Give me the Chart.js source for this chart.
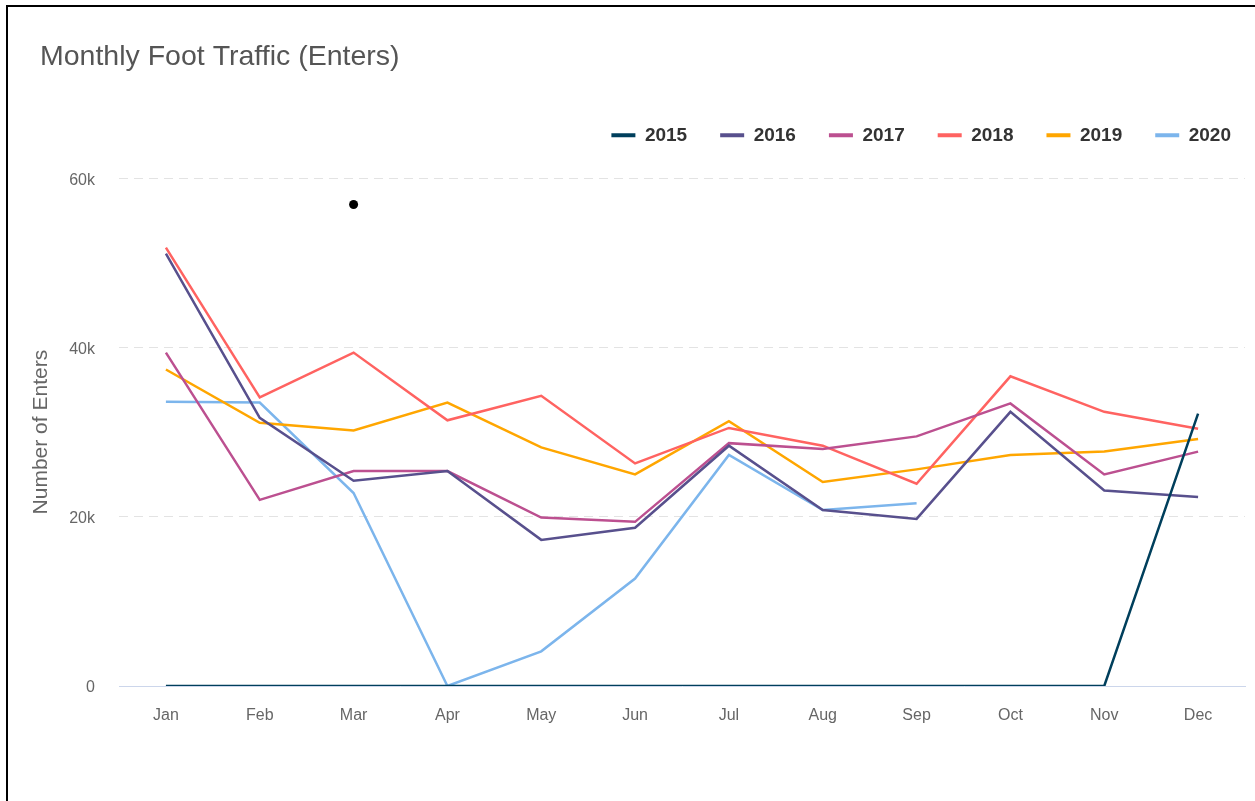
<!DOCTYPE html>
<html>
<head>
<meta charset="utf-8">
<script src="https://cdn.jsdelivr.net/npm/chart.js@4.4.1/dist/chart.umd.min.js"></script>
<style>
  html, body { margin: 0; padding: 0; background: #fff; }
  #wrap { position: relative; width: 1255px; height: 801px; overflow: hidden; }
  #frame { position: absolute; left: 6px; top: 5px; width: 1300px; height: 900px;
           border-left: 2px solid #000; border-top: 2px solid #000; box-sizing: border-box; }
  #c { position: absolute; left: 0; top: 0; }
</style>
</head>
<body>
<div id="wrap">
  <div id="frame"></div>
  <canvas id="c" width="1255" height="801"></canvas>
</div>
<script>
const months = ['Jan','Feb','Mar','Apr','May','Jun','Jul','Aug','Sep','Oct','Nov','Dec'];
const seriesNames = ['2015','2016','2017','2018','2019','2020'];
const y2015 = [0,0,0,0,0,0,0,0,0,0,0,32200];
const y2016 = [51100,31700,24250,25400,17270,18700,28400,20800,19750,32400,23100,22350];
const y2017 = [39400,22000,25400,25400,19900,19400,28700,28000,29500,33400,25000,27700];
const y2018 = [51800,34100,39400,31400,34300,26300,30500,28400,23900,36600,32400,30400];
const y2019 = [37400,31100,30200,33500,28200,25000,31300,24100,25600,27300,27700,29200];
const y2020 = [33600,33500,22800,0,4100,12700,27300,20800,21600,null,null,null];
const cursorDot = [null,null,56900,null,null,null,null,null,null,null,null,null];
const yTickValues = [0,20000,40000,60000];
const colors = ['#003f5c','#58508d','#bc5090','#ff6361','#ffa600','#7cb5ec'];

Chart.defaults.font.family = '"Liberation Sans", Arial, sans-serif';

const seriesData = [y2015,y2016,y2017,y2018,y2019,y2020];
const datasets = seriesData.map((d,i) => ({
  label: seriesNames[i],
  data: d,
  borderColor: colors[i],
  backgroundColor: colors[i],
  borderWidth: 2.5,
  pointRadius: 0,
  tension: 0,
  spanGaps: false
}));
datasets.push({
  label: 'cursor',
  data: cursorDot,
  showLine: false,
  pointRadius: 4.5,
  pointBackgroundColor: '#000',
  pointBorderWidth: 0,
  borderColor: '#000',
  backgroundColor: '#000'
});

const legendTweak = {
  id: 'legendTweak',
  afterInit(chart) {
    const lg = chart.legend;
    if (!lg || lg._tweaked) return;
    const origFit = lg.fit;
    lg.fit = function() {
      origFit.call(this);
      this.height += 23.5;
    };
    const origDraw = lg.draw;
    lg.draw = function() {
      const ctx = this.ctx;
      ctx.save();
      ctx.translate(19, 0);
      origDraw.call(this);
      ctx.restore();
    };
    lg._tweaked = true;
  }
};

new Chart(document.getElementById('c'), {
  type: 'line',
  data: { labels: months, datasets },
  plugins: [legendTweak],
  options: {
    responsive: false,
    animation: false,
    devicePixelRatio: 1,
    layout: { padding: { left: 40, right: 10, top: 0, bottom: 0 } },
    plugins: {
      tooltip: { enabled: false },
      title: {
        display: true,
        text: 'Monthly Foot Traffic (Enters)',
        align: 'start',
        color: '#555',
        font: { size: 28.5, weight: 'normal', lineHeight: 1.2 },
        padding: { top: 40.2, bottom: 18.4 }
      },
      legend: {
        display: true,
        position: 'top',
        align: 'end',
        labels: {
          boxWidth: 24,
          boxHeight: 4,
          padding: 33,
          color: '#333',
          font: { size: 19, weight: 'bold' },
          generateLabels(chart) {
            const items = Chart.defaults.plugins.legend.labels.generateLabels(chart);
            items.forEach(it => { it.fillStyle = it.strokeStyle; it.lineWidth = 0; });
            return items.filter(it => it.datasetIndex < seriesNames.length);
          }
        }
      }
    },
    scales: {
      x: {
        type: 'category',
        offset: true,
        grid: { display: false, drawTicks: false },
        border: { display: true, color: '#ccd6eb', width: 1 },
        ticks: { color: '#666', font: { size: 16 }, padding: 20, maxRotation: 0, autoSkip: false },
        afterFit(scale) { scale.height = 115; }
      },
      y: {
        min: 0,
        max: 60000,
        afterBuildTicks(scale) { scale.ticks = yTickValues.map(v => ({ value: v })); },
        grid: {
          drawTicks: false,
          color: ctx => (ctx.tick && ctx.tick.value === 0) ? 'rgba(0,0,0,0)' : '#e3e3e3',
          lineWidth: 1
        },
        border: { display: false, dash: [9, 6] },
        ticks: {
          color: '#666',
          font: { size: 16 },
          padding: 24,
          labelOffset: 2,
          callback: v => v === 0 ? '0' : (v / 1000) + 'k'
        },
        title: {
          display: true,
          text: 'Number of Enters',
          color: '#666',
          font: { size: 21, lineHeight: 1.2 },
          padding: { top: -11.6, bottom: 0 }
        },
        afterFit(scale) { scale.width = 79; }
      }
    }
  }
});
</script>
</body>
</html>
